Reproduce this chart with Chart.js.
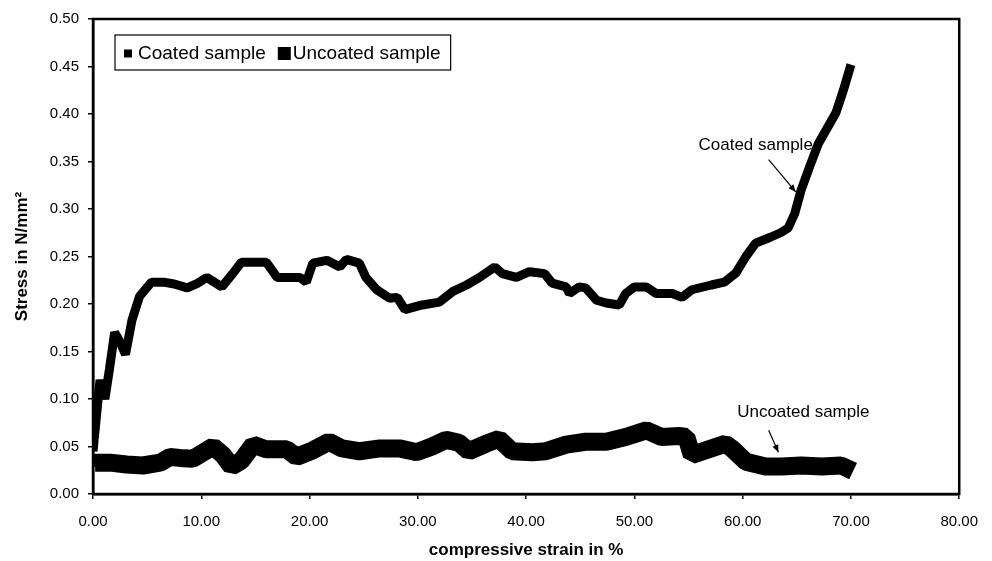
<!DOCTYPE html>
<html>
<head>
<meta charset="utf-8">
<script src="https://cdn.jsdelivr.net/npm/chart.js@4"></script>
<style>
  html, body { margin: 0; padding: 0; background: #fff; }
  #wrap { width: 992px; height: 561px; }
</style>
</head>
<body>
<div id="wrap"><canvas id="stressChart" width="992" height="561"></canvas></div>
<script>
// values
const coatedStrain = [
  0, 0.3, 0.65, 1.1, 1.5, 2.0, 2.5, 3.0, 3.6, 4.3,
  5.4, 6.5, 7.5, 8.7, 9.7, 10.5, 11.9, 12.9, 13.7, 16.0,
  17.0, 19.1, 19.7, 20.3, 21.6, 22.8, 23.4, 24.6, 25.2, 26.2,
  27.4, 28.1, 28.8, 30.4, 32.0, 33.2, 34.5, 35.7, 37.1, 37.8,
  39.1, 40.3, 41.7, 42.4, 43.7, 44.0, 44.9, 45.5, 46.5, 47.4,
  48.6, 49.2, 50.0, 51.1, 52.0, 53.5, 54.4, 55.3, 57.1, 58.3,
  59.4, 60.3, 61.2, 62.5, 63.5, 64.2, 64.8, 65.4, 66.2, 67.0,
  67.8, 68.6, 69.3, 70.0
];
const coatedStress = [
  0.045, 0.08, 0.12, 0.10, 0.13, 0.17, 0.16, 0.147, 0.183, 0.208,
  0.223, 0.223, 0.221, 0.217, 0.222, 0.228, 0.218, 0.232, 0.244, 0.244,
  0.228, 0.228, 0.223, 0.243, 0.246, 0.239, 0.247, 0.243, 0.228, 0.215,
  0.206, 0.207, 0.194, 0.199, 0.202, 0.213, 0.22, 0.228, 0.239, 0.232,
  0.228, 0.234, 0.232, 0.222, 0.218, 0.211, 0.218, 0.217, 0.204, 0.201,
  0.199, 0.211, 0.218, 0.218, 0.211, 0.211, 0.207, 0.215, 0.22, 0.223,
  0.233, 0.25, 0.264, 0.27, 0.275, 0.28, 0.295, 0.32, 0.345, 0.369,
  0.385, 0.401, 0.425, 0.452
];
const uncoatedStrain = [
  0, 0.2, 1.6, 3.1, 4.6, 6.2, 7.1, 8.0, 9.2, 11.1,
  12.0, 12.8, 13.7, 14.8, 16.0, 17.9, 18.8, 20.3, 21.8, 23.0,
  24.6, 26.5, 28.3, 29.9, 31.3, 32.6, 33.8, 34.7, 36.3, 37.5,
  38.7, 40.6, 41.8, 43.7, 45.5, 47.4, 49.2, 51.1, 52.5, 54.1,
  54.8, 55.3, 56.6, 58.4, 59.0, 60.3, 62.1, 63.6, 65.4, 67.3,
  69.1, 70.2
];
const uncoatedStress = [
  0.03, 0.033, 0.033, 0.031, 0.030, 0.033, 0.039, 0.038, 0.037, 0.050,
  0.041, 0.029, 0.035, 0.052, 0.047, 0.047, 0.039, 0.046, 0.055, 0.048,
  0.045, 0.048, 0.048, 0.044, 0.050, 0.057, 0.054, 0.045, 0.053, 0.058,
  0.045, 0.044, 0.045, 0.052, 0.055, 0.055, 0.060, 0.067, 0.060, 0.061,
  0.060, 0.041, 0.046, 0.053, 0.048, 0.034, 0.029, 0.029, 0.030, 0.029,
  0.030, 0.024
];
const seriesNames = ['Coated sample', 'Uncoated sample'];
const xTicks = [0, 10, 20, 30, 40, 50, 60, 70, 80];
const yTicks = [0, 0.05, 0.1, 0.15, 0.2, 0.25, 0.3, 0.35, 0.4, 0.45, 0.5];

// callouts: [label, text x, text y, arrow from x, y, arrow to x, y] in data units
const callouts = [
  ['Coated sample', 61.2, 0.367, 62.4, 0.352, 64.9, 0.318],
  ['Uncoated sample', 65.6, 0.086, 62.4, 0.067, 63.3, 0.044],
];

const FONT = 'Arial, "Liberation Sans", sans-serif';

const toPoints = (xs, ys) => xs.map((x, i) => ({ x, y: ys[i] }));

const frameAndNotes = {
  id: 'frameAndNotes',
  afterDatasetsDraw(chart) {
    const { ctx, chartArea: a, scales } = chart;
    ctx.save();
    // box round the plot
    ctx.strokeStyle = '#000';
    ctx.lineWidth = 2.5;
    ctx.strokeRect(a.left, a.top, a.right - a.left, a.bottom - a.top);

    // callouts with arrows
    ctx.font = '17px ' + FONT;
    ctx.fillStyle = '#000';
    ctx.textAlign = 'center';
    ctx.textBaseline = 'middle';
    ctx.lineWidth = 1.2;
    callouts.forEach(([text, tx, ty, x1, y1, x2, y2]) => {
      ctx.fillText(text, scales.x.getPixelForValue(tx), scales.y.getPixelForValue(ty));
      const px1 = scales.x.getPixelForValue(x1), py1 = scales.y.getPixelForValue(y1);
      const px2 = scales.x.getPixelForValue(x2), py2 = scales.y.getPixelForValue(y2);
      const ang = Math.atan2(py2 - py1, px2 - px1);
      ctx.beginPath();
      ctx.moveTo(px1, py1);
      ctx.lineTo(px2, py2);
      ctx.stroke();
      ctx.beginPath();
      ctx.moveTo(px2, py2);
      ctx.lineTo(px2 - 8 * Math.cos(ang - 0.4), py2 - 8 * Math.sin(ang - 0.4));
      ctx.lineTo(px2 - 8 * Math.cos(ang + 0.4), py2 - 8 * Math.sin(ang + 0.4));
      ctx.closePath();
      ctx.fill();
    });

    // legend box
    ctx.font = '19px ' + FONT;
    ctx.textAlign = 'left';
    const boxX = a.left + 22, boxY = a.top + 16, boxH = 35;
    let x = boxX + 9;
    const midY = boxY + boxH / 2;
    const parts = chart.data.datasets.map((ds) => {
      const size = ds.legendMarker;
      const w = ctx.measureText(ds.label).width;
      return { ds, size, w };
    });
    let total = 9;
    parts.forEach((p, i) => { total += p.size + (i === 0 ? 6 : 2) + p.w + (i === 0 ? 12 : 10); });
    ctx.fillStyle = '#fff';
    ctx.fillRect(boxX, boxY, total, boxH);
    ctx.strokeStyle = '#000';
    ctx.lineWidth = 1.2;
    ctx.strokeRect(boxX, boxY, total, boxH);
    ctx.fillStyle = '#000';
    parts.forEach((p, i) => {
      ctx.fillRect(x, midY - p.size / 2 + 1, p.size, p.size);
      x += p.size + (i === 0 ? 6 : 2);
      ctx.fillText(p.ds.label, x, midY + 1);
      x += p.w + 12;
    });
    ctx.restore();
  },
};

new Chart(document.getElementById('stressChart'), {
  type: 'line',
  data: {
    datasets: [
      {
        label: seriesNames[0],
        data: toPoints(coatedStrain, coatedStress),
        borderColor: '#000',
        backgroundColor: '#000',
        borderWidth: 9,
        borderJoinStyle: 'bevel',
        pointRadius: 0,
        tension: 0,
        legendMarker: 8,
      },
      {
        label: seriesNames[1],
        data: toPoints(uncoatedStrain, uncoatedStress),
        borderColor: '#000',
        backgroundColor: '#000',
        borderWidth: 18,
        borderJoinStyle: 'bevel',
        pointRadius: 0,
        tension: 0,
        legendMarker: 13,
      },
    ],
  },
  options: {
    responsive: false,
    animation: false,
    layout: { padding: { top: 19, right: 31, left: 0, bottom: 0 } },
    plugins: {
      legend: { display: false },
      tooltip: { enabled: false },
    },
    scales: {
      x: {
        type: 'linear',
        min: xTicks[0],
        max: xTicks[xTicks.length - 1],
        afterFit(scale) { scale.height = 67; },
        afterBuildTicks(scale) { scale.ticks = xTicks.map((value) => ({ value })); },
        grid: { drawOnChartArea: false, drawTicks: true, tickLength: 5, color: '#000', lineWidth: 1.5 },
        border: { display: true, color: '#000', width: 2.5 },
        ticks: {
          color: '#000',
          padding: 14,
          maxRotation: 0,
          font: { family: FONT, size: 15 },
          callback(value) { return Number(value).toFixed(2); },
        },
        title: {
          display: true,
          text: 'compressive strain in %',
          color: '#000',
          padding: { top: 0, bottom: 0 },
          font: { family: FONT, size: 17, weight: 'bold' },
        },
      },
      y: {
        type: 'linear',
        min: yTicks[0],
        max: yTicks[yTicks.length - 1],
        afterFit(scale) { scale.width = 93; },
        afterBuildTicks(scale) { scale.ticks = yTicks.map((value) => ({ value })); },
        grid: { drawOnChartArea: false, drawTicks: true, tickLength: 5, color: '#000', lineWidth: 1.5 },
        border: { display: true, color: '#000', width: 2.5 },
        ticks: {
          color: '#000',
          padding: 9,
          font: { family: FONT, size: 15 },
          callback(value) { return Number(value).toFixed(2); },
        },
        title: {
          display: true,
          text: 'Stress in N/mm²',
          color: '#000',
          padding: { top: 12, bottom: 0 },
          font: { family: FONT, size: 17, weight: 'bold' },
        },
      },
    },
  },
  plugins: [frameAndNotes],
});
</script>
</body>
</html>
